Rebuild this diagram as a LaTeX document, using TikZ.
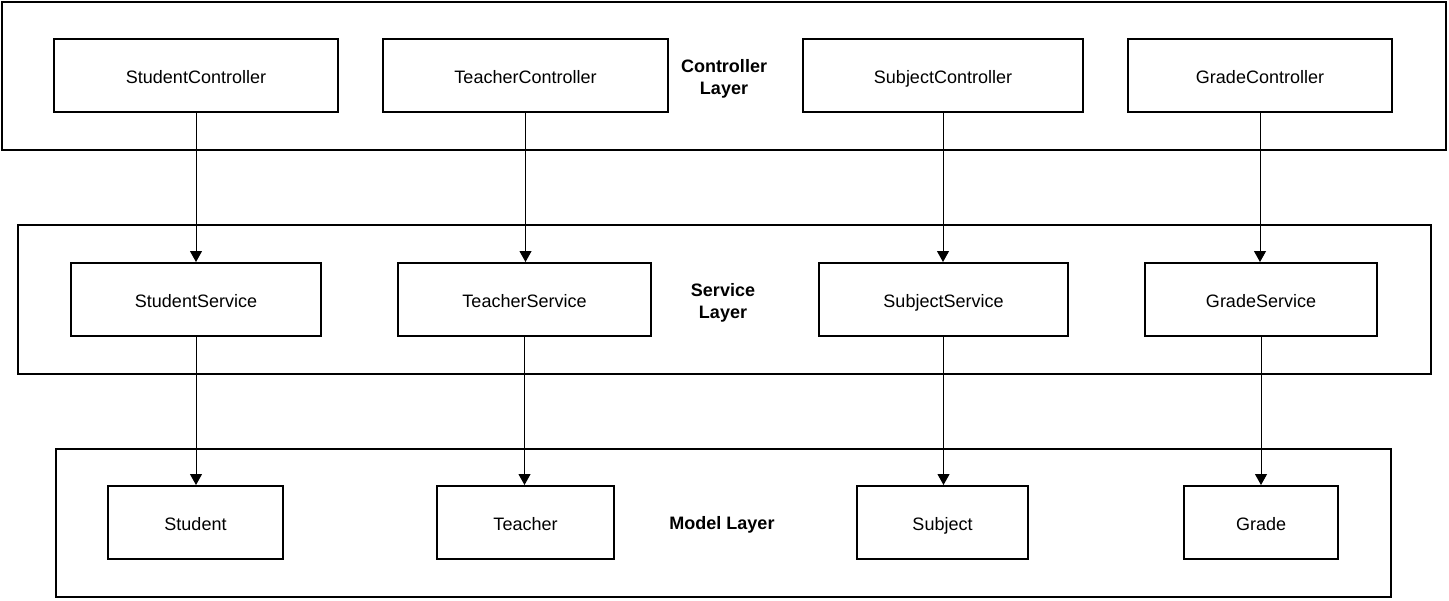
\documentclass[tikz,border=0pt]{standalone}
\usepackage{fontspec}
\setmainfont{Liberation Sans}
\usetikzlibrary{arrows.meta}
\tikzset{
	klasse/.style={draw=black, line width=1pt, fill=white, minimum height=36.5pt, inner sep=0pt, text height=7.5pt, text depth=0pt, font=\fontsize{9}{11}\selectfont},
	schicht/.style={draw=black, line width=1pt},
	schichtname/.style={align=center, font=\fontsize{9}{11}\selectfont\bfseries},
	pfeil/.style={draw=black, line width=0.5pt, -{Triangle[width=6pt, length=5.5pt]}}
}
\begin{document}
\begin{tikzpicture}[x=0.5pt, y=-0.5pt]
	\useasboundingbox (0,0) rectangle (1449,600);
	% Schichten
	\draw[schicht] (2,2) rectangle (1446,150);
	\draw[schicht] (18,225) rectangle (1431,374);
	\draw[schicht] (56,449) rectangle (1391,597);

	% Controller
	\node[klasse, minimum width=142pt] (studentctrl) at (196,75.5) {StudentController};
	\node[klasse, minimum width=142.5pt] (teacherctrl) at (525.5,75.5) {TeacherController};
	\node[schichtname] (ctrllayer) at (724,79) {Controller\\Layer};
	\node[klasse, minimum width=140pt] (subjectctrl) at (943,75.5) {SubjectController};
	\node[klasse, minimum width=132pt] (gradectrl) at (1260,75.5) {GradeController};

	% Services
	\node[klasse, minimum width=125pt] (studentsrv) at (196,299.5) {StudentService};
	\node[klasse, minimum width=126.5pt] (teachersrv) at (524.5,299.5) {TeacherService};
	\node[schichtname] (srvlayer) at (723,303) {Service\\Layer};
	\node[klasse, minimum width=124.5pt] (subjectsrv) at (943.5,299.5) {SubjectService};
	\node[klasse, minimum width=116pt] (gradesrv) at (1261,299.5) {GradeService};

	% Modelle
	\node[klasse, minimum width=87.5pt] (student) at (195.5,522.5) {Student};
	\node[klasse, minimum width=88.5pt] (teacher) at (525.5,522.5) {Teacher};
	\node[schichtname] (modellayer) at (722,525) {Model Layer};
	\node[klasse, minimum width=85.5pt] (subject) at (942.5,522.5) {Subject};
	\node[klasse, minimum width=77pt] (grade) at (1261,522.5) {Grade};

	% Pfeile
	\foreach \a/\b/\c in {student/studentsrv/studentctrl, teacher/teachersrv/teacherctrl, subject/subjectsrv/subjectctrl, grade/gradesrv/gradectrl}
	{
		\draw[pfeil] (\c.south) -- (\c.south |- \b.north);
		\draw[pfeil] (\b.south) -- (\b.south |- \a.north);
	}
\end{tikzpicture}
\end{document}
